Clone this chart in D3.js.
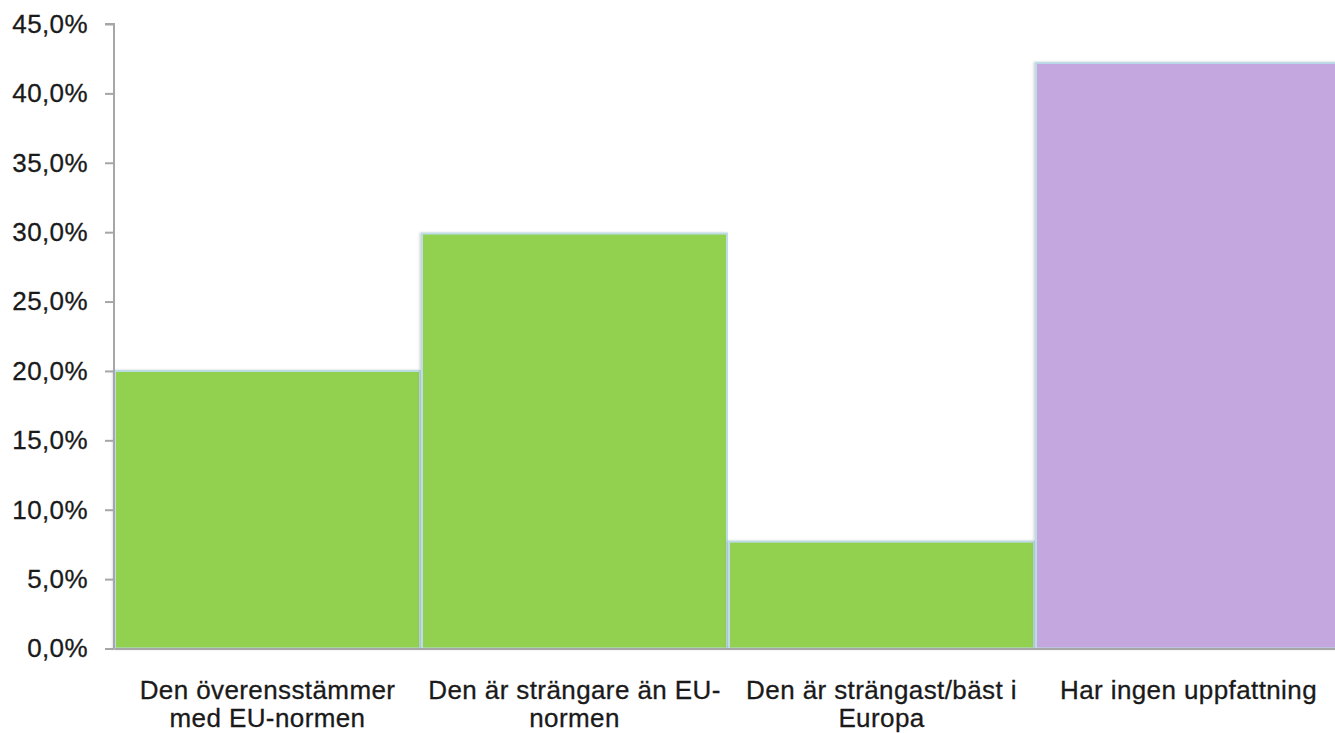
<!DOCTYPE html>
<html>
<head>
<meta charset="utf-8">
<script src="https://cdn.jsdelivr.net/npm/d3@7"></script>
<style>
  body { margin: 0; background: #fff; }
  svg { display: block; }
  text { font-family: "Liberation Sans", Arial, sans-serif; fill: #1a1a1a; stroke: #1a1a1a; stroke-width: 0.3px; }
</style>
</head>
<body>
<div class="app"></div>
<script>
'use strict'

// kategorier (radbrytningar som i originalet)
var categories = [
  ["Den överensstämmer", "med EU-normen"],
  ["Den är strängare än EU-", "normen"],
  ["Den är strängast/bäst i", "Europa"],
  ["Har ingen uppfattning"]
];

// andel svar
var values = [0.200, 0.299, 0.077, 0.422];

// färg per stapel
var barColors = ["#92d050", "#92d050", "#92d050", "#c3a7de"];

var yTicks = [0, 0.05, 0.10, 0.15, 0.20, 0.25, 0.30, 0.35, 0.40, 0.45];

var width = 1335;
var height = 733;

var plot = { left: 114, right: 1342, top: 24, bottom: 648.5 };

var svg = d3.select(".app")
  .append("svg")
  .attr("width", width)
  .attr("height", height);

var x = d3.scaleBand()
  .domain(d3.range(categories.length))
  .range([plot.left, plot.right])
  .padding(0);

var y = d3.scaleLinear()
  .domain([0, 0.45])
  .range([plot.bottom, plot.top]);

var fmt = function(d) { return d3.format(".1f")(d * 100).replace(".", ",") + "%"; };

// skugga för staplarna
var defs = svg.append("defs");
var shadow = defs.append("filter")
  .attr("id", "shadow")
  .attr("x", "-5%").attr("y", "-5%")
  .attr("width", "110%").attr("height", "110%");
shadow.append("feDropShadow")
  .attr("dx", -1.5).attr("dy", 0)
  .attr("stdDeviation", 1.2)
  .attr("flood-color", "#888")
  .attr("flood-opacity", 0.35);

// staplar
svg.append("g")
  .attr("class", "bars")
  .selectAll("rect")
  .data(values)
  .join("rect")
  .attr("x", function(d, i) { return x(i) + 1; })
  .attr("y", function(d) { return y(d); })
  .attr("width", x.bandwidth() - 2)
  .attr("height", function(d) { return y(0) - y(d); })
  .attr("fill", function(d, i) { return barColors[i]; })
  .attr("stroke", "#bcdde6")
  .attr("stroke-width", 2)
  .attr("filter", "url(#shadow)");

// y-axel
var yAxis = d3.axisLeft(y)
  .tickValues(yTicks)
  .tickFormat(fmt)
  .tickSize(9)
  .tickPadding(17);

var gy = svg.append("g")
  .attr("class", "y-axis")
  .attr("transform", "translate(" + plot.left + ",0)")
  .call(yAxis);

gy.select(".domain")
  .attr("stroke", "#a6a6a6")
  .attr("stroke-width", 2)
  .attr("d", "M-9," + plot.top + "H0V" + plot.bottom);
gy.selectAll(".tick line")
  .attr("stroke", "#a6a6a6")
  .attr("stroke-width", 2);
gy.selectAll(".tick text")
  .attr("font-size", 26)
  .attr("letter-spacing", 0.4)
  .attr("font-family", "'Liberation Sans', Arial, sans-serif");

// x-axel
var xAxis = d3.axisBottom(x)
  .tickSize(0)
  .tickFormat("");

var gx = svg.append("g")
  .attr("class", "x-axis")
  .attr("transform", "translate(0," + plot.bottom + ")")
  .call(xAxis);

gx.select(".domain")
  .attr("stroke", "#a6a6a6")
  .attr("stroke-width", 2);

gx.selectAll(".tick text").remove();

gx.selectAll(".tick")
  .append("text")
  .attr("text-anchor", "middle")
  .attr("font-size", 26)
  .attr("letter-spacing", 0.4)
  .selectAll("tspan")
  .data(function(d) { return categories[d]; })
  .join("tspan")
  .attr("x", 0)
  .attr("y", function(d, i) { return 50 + i * 28; })
  .text(function(d) { return d; });
</script>
</body>
</html>
